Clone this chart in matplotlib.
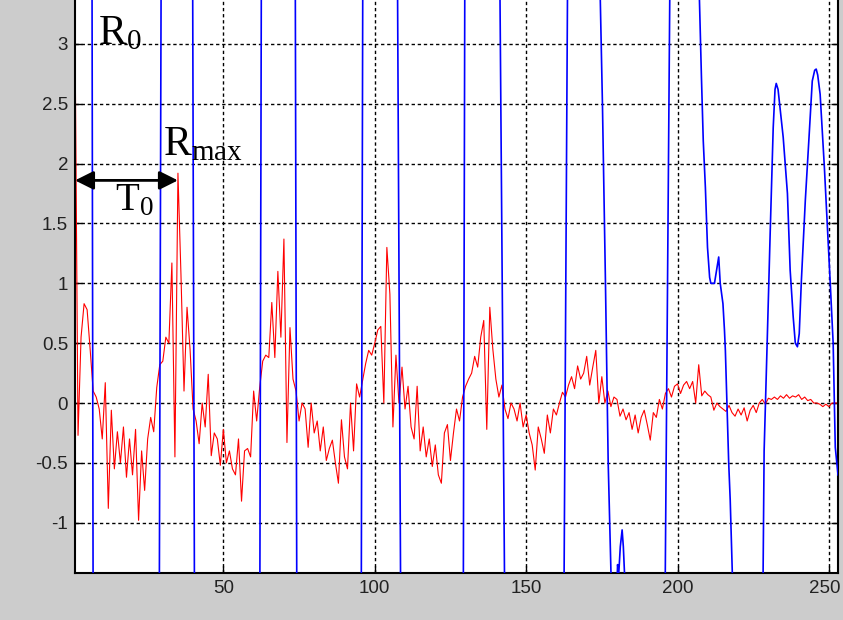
import numpy as np
import matplotlib
matplotlib.use("Agg")
import matplotlib.pyplot as plt
import matplotlib.transforms as mtransforms
from matplotlib.ticker import FormatStrFormatter

# autocorrelation (red), one value per lag 1..253
red = [3.10, -0.27, 0.55, 0.83, 0.78, 0.45, 0.10, 0.05, -0.05, -0.30,
       0.17, -0.88, -0.06, -0.55, -0.24, -0.50, -0.20, -0.62, -0.30, -0.60,
       -0.22, -0.98, -0.40, -0.73, -0.30, -0.12, -0.24, 0.13, 0.32, 0.35,
       0.55, 0.50, 1.17, -0.45, 1.92, 1.07, 0.10, 0.80, 0.45, -0.05,
       -0.15, -0.34, 0.00, -0.20, 0.24, -0.44, -0.25, -0.30, -0.52, -0.22,
       -0.50, -0.40, -0.55, -0.60, -0.30, -0.82, -0.40, -0.38, -0.45, 0.10,
       -0.15, 0.13, 0.35, 0.40, 0.38, 0.84, 0.38, 1.10, 0.55, 1.37,
       -0.33, 0.63, 0.20, 0.10, -0.15, 0.00, -0.05, -0.37, 0.00, -0.25,
       -0.15, -0.40, -0.20, -0.48, -0.38, -0.31, -0.50, -0.67, -0.14, -0.45,
       -0.55, 0.00, -0.40, 0.16, 0.05, 0.19, 0.33, 0.44, 0.40, 0.50,
       0.61, 0.64, 0.00, 1.30, 0.91, -0.20, 0.40, 0.00, 0.30, -0.05,
       0.14, -0.20, -0.30, 0.14, -0.40, -0.20, -0.45, -0.30, -0.53, -0.35,
       -0.60, -0.67, -0.25, -0.18, -0.48, -0.25, -0.05, -0.15, 0.05, 0.14,
       0.20, 0.25, 0.39, 0.30, 0.55, 0.69, -0.22, 0.80, 0.45, 0.20,
       0.05, 0.15, -0.05, -0.13, 0.00, -0.05, -0.15, 0.00, -0.20, -0.10,
       -0.25, -0.35, -0.56, -0.20, -0.30, -0.42, -0.10, -0.25, -0.05, -0.10,
       0.00, 0.09, 0.05, 0.15, 0.22, 0.12, 0.31, 0.20, 0.25, 0.39,
       0.15, 0.30, 0.44, 0.00, 0.22, 0.00, 0.10, -0.03, 0.05, 0.03,
       -0.11, -0.05, -0.14, -0.08, -0.22, -0.10, -0.25, -0.12, -0.06, -0.18,
       -0.31, -0.08, -0.12, 0.03, -0.05, 0.08, 0.12, 0.05, 0.14, 0.16,
       0.08, 0.15, 0.18, 0.12, 0.18, 0.00, 0.32, 0.06, 0.10, 0.07,
       0.05, -0.06, 0.00, -0.03, -0.05, -0.07, -0.02, -0.08, -0.11, -0.05,
       -0.10, -0.04, -0.15, -0.06, -0.02, -0.08, 0.00, 0.03, -0.01, 0.04,
       0.03, 0.05, 0.03, 0.06, 0.04, 0.07, 0.04, 0.06, 0.05, 0.07,
       0.03, 0.05, 0.02, 0.03, 0.00, 0.00, -0.01, -0.03, -0.01, -0.03,
       0.00, 0.00, 0.00]
lags = np.arange(1, len(red) + 1)

# speech signal (blue), mostly off scale - knots
blue_x = [1, 6.62, 6.98, 28.85, 29.45, 39.85, 40.45, 62.05, 62.55, 73.75,
          74.25, 95.55, 96.05, 107.5, 108.55, 129.25, 129.75, 141.3, 142.9, 162.5,
          163.7, 174.3, 175.2, 176.2, 177.1, 178.2, 179.9, 180.2, 180.6, 181.1,
          181.7, 182.1, 182.8, 195.9, 197.5, 207.0, 207.9, 208.5, 209.2, 209.9,
          210.6, 211.0, 212.2, 213.6, 214.1, 215.0, 215.5, 215.8, 216.9, 217.4,
          218.3, 228.2, 228.6, 229.6, 230.6, 231.6, 232.2, 232.6, 233.2, 234.9,
          236.3, 237.2, 238.2, 238.9, 239.6, 240.2, 240.9, 242.2, 243.5, 244.5,
          245.3, 245.8, 246.3, 247.1, 248.5, 249.5, 250.5, 251.4, 252.1, 253.0]
blue_y = [3.6, 3.6, -1.6, -1.6, 3.6, 3.6, -1.6, -1.6, 3.6, 3.6,
          -1.6, -1.6, 3.6, 3.6, -1.6, -1.6, 3.6, 3.6, -1.6, -1.6,
          3.6, 3.6, 2.5, 1.0, -0.5, -1.6, -1.6, -1.35, -1.42, -1.2,
          -1.06, -1.2, -1.6, -1.6, 3.6, 3.6, 2.72, 2.19, 1.80, 1.30,
          1.05, 1.0, 1.0, 1.22, 1.0, 0.83, 0.61, 0.44, -0.5, -0.81,
          -1.6, -1.6, -0.4, 0.5, 1.42, 2.3, 2.62, 2.67, 2.62, 2.22,
          1.75, 1.11, 0.72, 0.5, 0.47, 0.58, 1.02, 1.69, 2.25, 2.69,
          2.78, 2.79, 2.74, 2.58, 1.97, 1.47, 0.97, 0.5, -0.37, -0.6]

x_ticks = [50, 100, 150, 200, 250]
y_ticks = [-1, -0.5, 0, 0.5, 1, 1.5, 2, 2.5, 3]

# lag of the largest peak after R0
i_max = int(np.argmax(red[5:])) + 5
t_max = lags[i_max]

fig = plt.figure(figsize=(8.43, 6.2), dpi=100, facecolor="#cccccc")
ax = fig.add_axes([75 / 843, 47 / 620, 763 / 843, 573 / 620])
ax.set_facecolor("white")

ax.plot(blue_x, blue_y, color="#0000ff", lw=1.2, zorder=3)
ax.plot(lags, red, color="#ff0000", lw=0.8, zorder=2)

ax.set_xlim(1, 253)
ax.set_ylim(-1.42, 3.367)
ax.set_xticks(x_ticks)
ax.set_yticks(y_ticks)
ax.yaxis.set_major_formatter(FormatStrFormatter("%g"))

ax.grid(True, color="black", lw=1.0, linestyle=(0, (2.4, 2.0)), zorder=1)
ax.set_axisbelow(True)

for side in ["left", "right", "bottom"]:
    ax.spines[side].set_linewidth(1.5)
ax.spines["top"].set_visible(False)
ax.tick_params(direction="in", length=5, width=1, right=True,
               labelsize=13.5, labelcolor="#222222", pad=5)
for lab in ax.get_xticklabels() + ax.get_yticklabels():
    lab.set_fontfamily("Liberation Sans")

# last x label sits against the figure edge, nudge it in a little
last = ax.get_xticklabels()[-1]
last.set_transform(last.get_transform() +
                   mtransforms.ScaledTranslation(-4 / 100, 0, fig.dpi_scale_trans))

# annotations
serif = "Liberation Serif"
ax.text(8.7, 3.0, r"$\mathregular{R_0}$", fontsize=30, fontfamily=serif,
        ha="left", va="baseline", zorder=5)
ax.text(29.9, 2.07, r"$\mathregular{R_{max}}$", fontsize=30, fontfamily=serif,
        ha="left", va="baseline", zorder=5)
ax.text(14.3, 1.61, r"$\mathregular{T_0}$", fontsize=28, fontfamily=serif,
        ha="left", va="baseline", zorder=5)
ax.annotate("", xy=(lags[0], 1.86), xytext=(t_max, 1.86),
            arrowprops=dict(arrowstyle="<|-|>", color="black", lw=2,
                            mutation_scale=28, shrinkA=0, shrinkB=0),
            zorder=5)

plt.savefig("out.png", dpi=100, facecolor=fig.get_facecolor())
